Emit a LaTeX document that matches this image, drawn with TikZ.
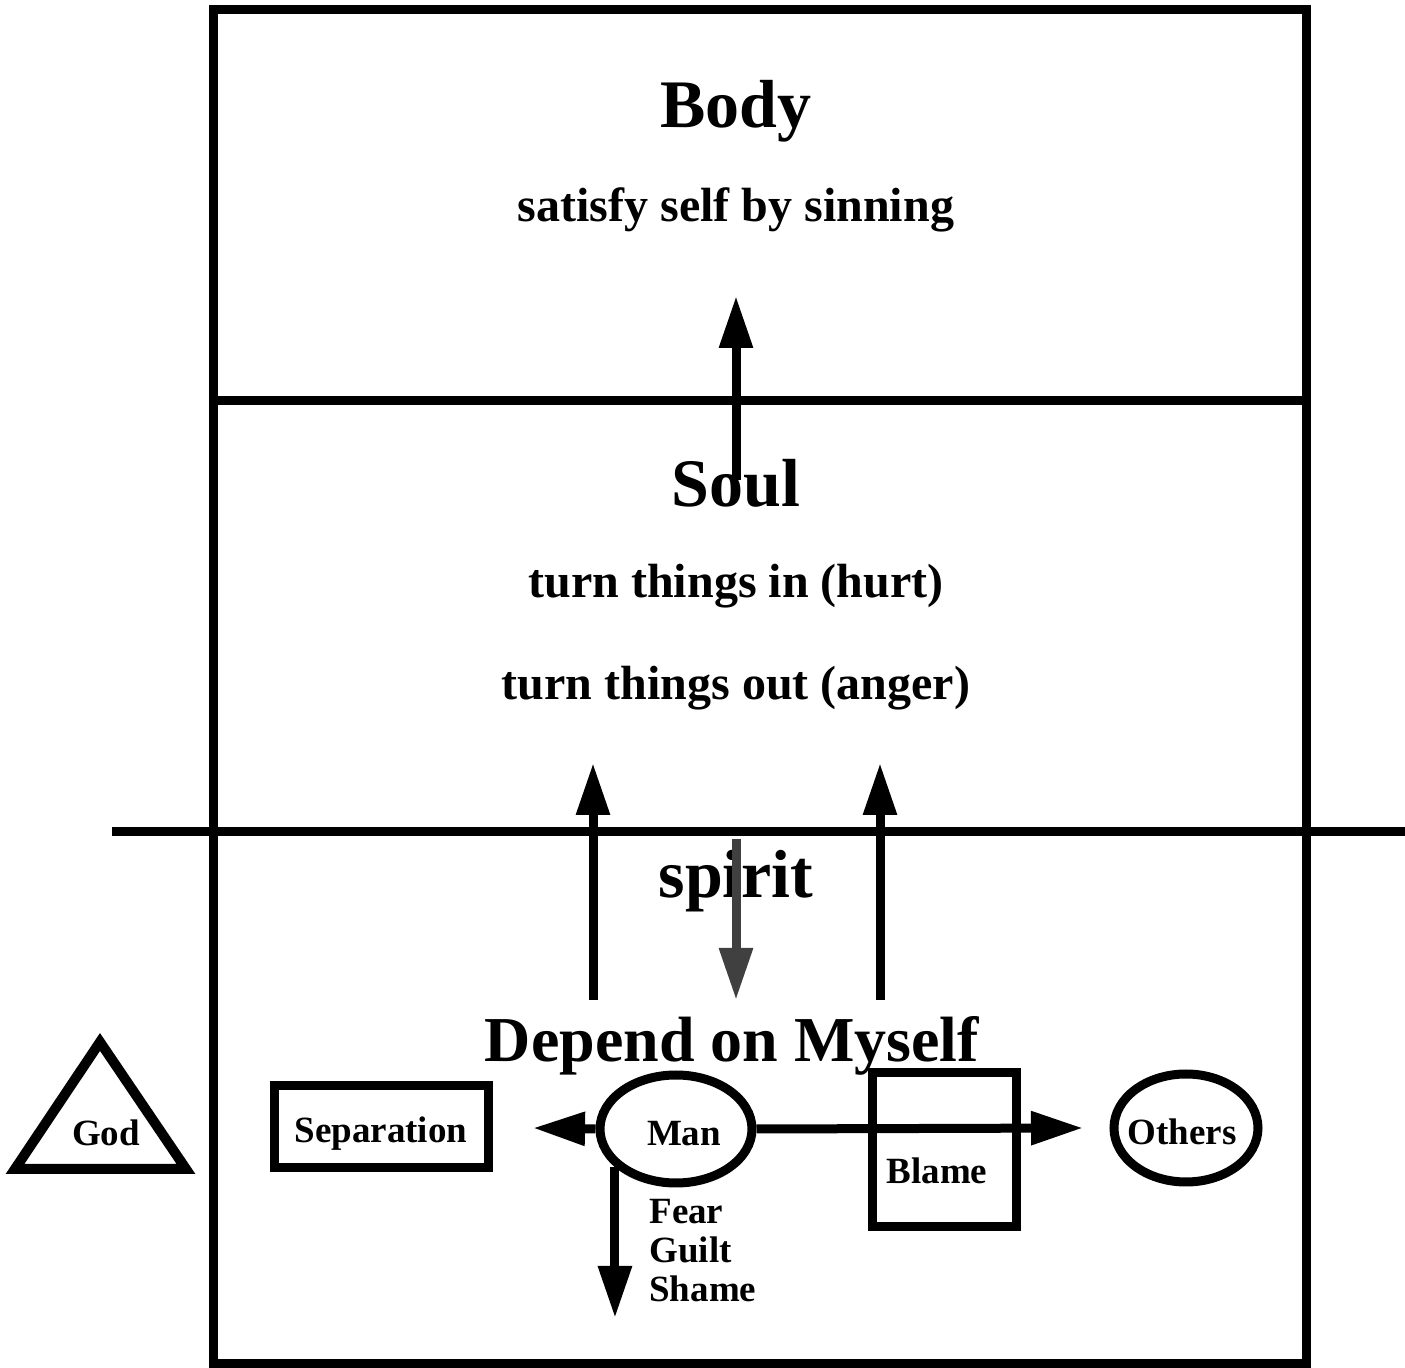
\documentclass[tikz,border=0pt]{standalone}
\usepackage{fontspec}
\setmainfont{Liberation Serif}
\usetikzlibrary{arrows.meta,shapes.geometric}
\definecolor{downgray}{HTML}{404040}
\tikzset{
  thickline/.style={line width=4.5pt},
  uparrow/.style={line width=4.5pt, -{Triangle[length=26pt,width=16pt]}},
  bigtitle/.style={font=\fontsize{34}{40}\selectfont\bfseries, inner sep=0pt, anchor=base},
  subline/.style={font=\fontsize{24}{28}\selectfont\bfseries, inner sep=0pt, anchor=base},
  smalltext/.style={font=\fontsize{18.5}{19.5}\selectfont\bfseries},
  thingbox/.style={draw, line width=4.5pt, smalltext, rectangle, text height=16pt, text depth=0pt, inner sep=0pt},
  thingoval/.style={draw, line width=4.5pt, smalltext, ellipse, text height=16.5pt, text depth=0pt, inner sep=0pt}
}

\begin{document}
\begin{tikzpicture}[x=0.5pt, y=-0.5pt]
    \useasboundingbox (0,0) rectangle (1405,1368);

    % Frame and the three layers
    \draw[thickline] (213,10) rectangle (1306,1364);
    \draw[thickline] (213,401) -- (1306,401);
    \draw[thickline] (112,832) -- (1405,832);

    % Body
    \node[bigtitle] (body) at (736,128) {Body};
    \node[subline] (sinning) at (736,222) {satisfy self by sinning};
    \coordinate (bodyTip) at (736,296);
    \coordinate (soulTop) at (736,480);
    \draw[uparrow] (soulTop) -- (bodyTip);

    % Soul
    \node[bigtitle] (soul) at (736,507) {Soul};
    \node[subline] (hurt) at (736,598) {turn things in (hurt)};
    \node[subline] (anger) at (736,700) {turn things out (anger)};

    % spirit
    \node[bigtitle] (spirit) at (736,898) {spirit};
    \coordinate (leftFoot) at (593,1000);
    \coordinate (leftTip) at (593,763);
    \coordinate (rightFoot) at (880,1000);
    \coordinate (rightTip) at (880,763);
    \draw[uparrow] (leftFoot) -- (leftTip);
    \draw[uparrow] (rightFoot) -- (rightTip);
    \coordinate (spiritTop) at (736,839);
    \coordinate (spiritTip) at (736,1000);
    \draw[uparrow, downgray] (spiritTop) -- (spiritTip);

    \node[bigtitle, font=\fontsize{32}{38}\selectfont\bfseries] (myself) at (732,1062) {Depend on Myself};

    % God and the others
    \node[smalltext, text depth=0pt, inner sep=0pt] (god) at (106,1133) {God};
    \draw[line width=5pt] (15,1169) -- (100,1042) -- (186,1169) -- cycle;
    \node[thingbox, minimum width=107pt, minimum height=41pt] (separation) at (381,1127) {Separation};
    \node[thingoval, minimum width=76pt, minimum height=54pt] (man) at (676,1129) {\kern8pt Man};
    \node[draw, line width=4.5pt, minimum width=72pt, minimum height=77pt] (blame) at (944.5,1150) {};
    \node[smalltext, anchor=base] (blameText) at (937,1184) {Blame};
    \node[thingoval, minimum width=72pt, minimum height=54pt] (others) at (1186,1128) {\kern-4pt Others};

    % Man's arrows
    \coordinate (sepTip) at (533,1128);
    \coordinate (othTip) at (1083,1128);
    \coordinate (shameTip) at (616,1318);
    \draw[uparrow] (man.west) -- (sepTip);
    \draw[uparrow] (man.east) -- (othTip);
    \draw[uparrow] (man.212) -- (man.212 |- shameTip);
    \node[smalltext, align=left, anchor=north west, inner sep=0pt] (feelings) at (649,1199) {Fear\\Guilt\\Shame};
\end{tikzpicture}
\end{document}
